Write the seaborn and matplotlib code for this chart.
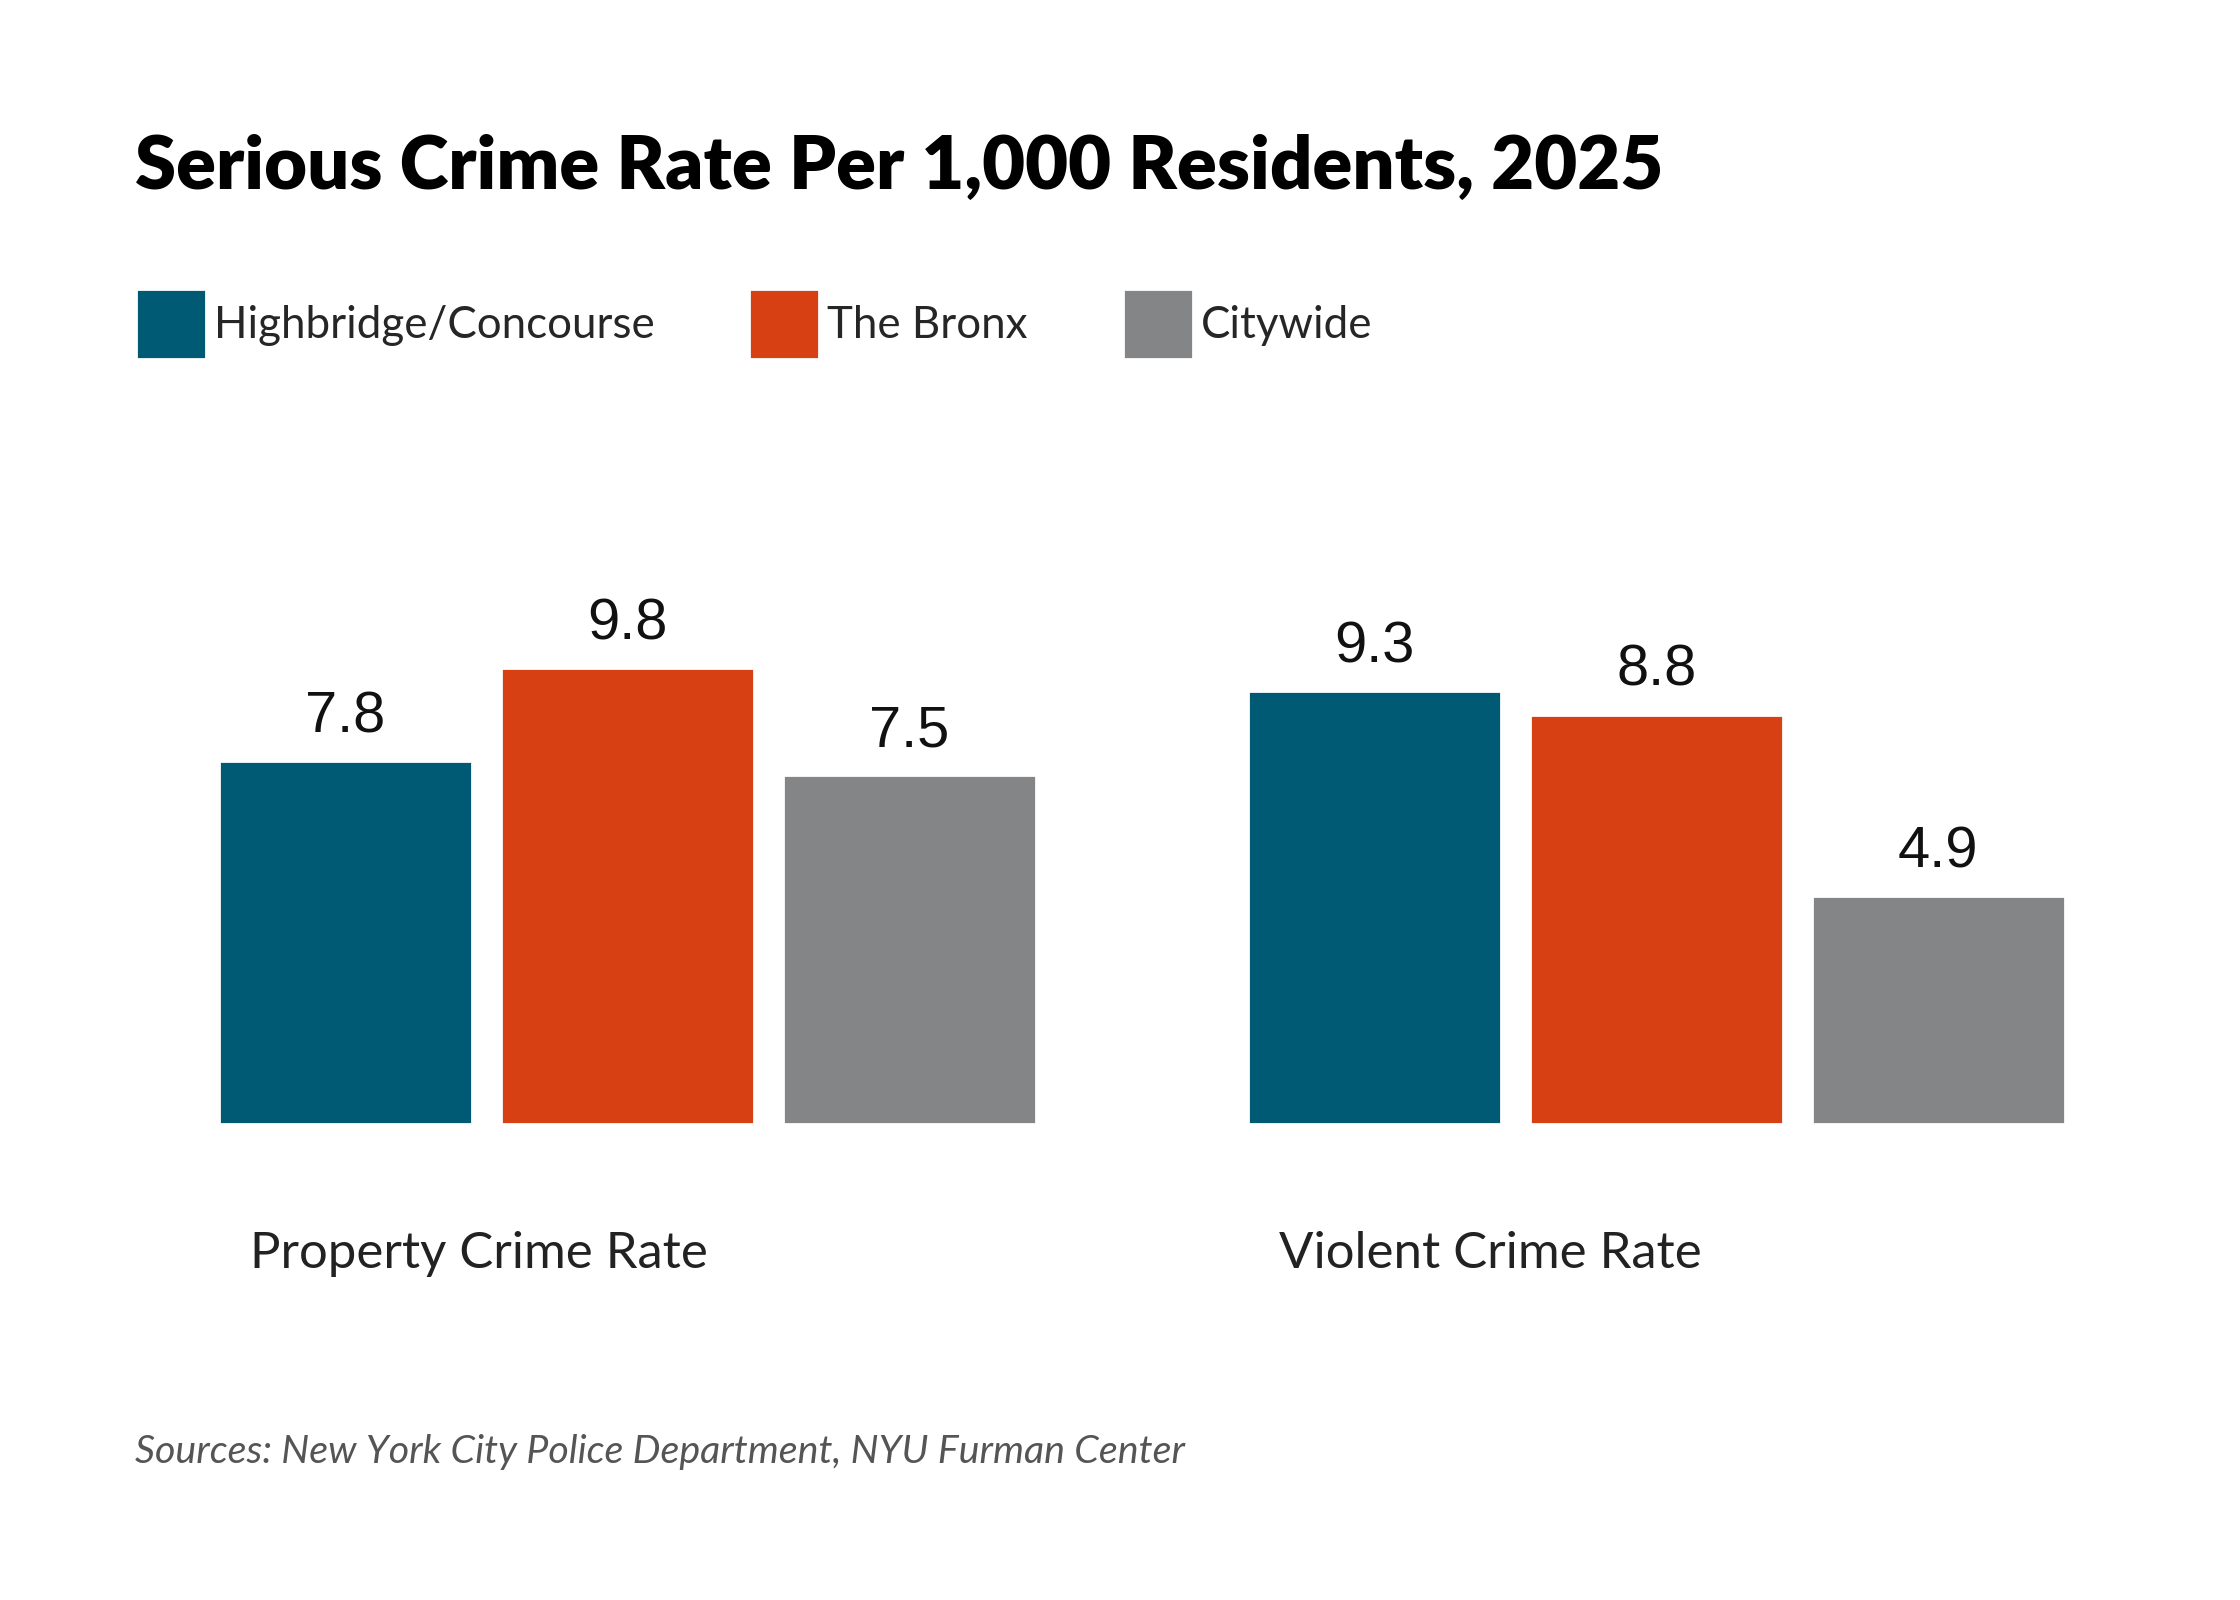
import pandas as pd
import matplotlib.pyplot as plt
import matplotlib.transforms as mtransforms
import seaborn as sns

teal = "#005A73"
orange = "#D64013"
gray = "#848587"

categories = ["Property Crime Rate", "Violent Crime Rate"]
areas = ["Highbridge/Concourse", "The Bronx", "Citywide"]
highbridge = [7.8, 9.3]
bronx = [9.8, 8.8]
citywide = [7.5, 4.9]

rows = []
for area, vals in zip(areas, [highbridge, bronx, citywide]):
    for cat, v in zip(categories, vals):
        rows.append({"category": cat, "area": area, "value": v})
df = pd.DataFrame(rows)

sns.set_style("white")
plt.rcParams["font.family"] = ["Lato", "DejaVu Sans"]

fig = plt.figure(figsize=(11.2, 8), dpi=200)
ax = fig.add_axes([0.0504, 0.2975, 0.91875, 0.349])

sns.barplot(data=df, x="category", y="value", hue="area", order=categories,
            hue_order=areas, palette=[teal, orange, gray], saturation=1,
            width=0.822, gap=0.103, ax=ax, legend=True)

ax.set_xlim(-0.5, 1.5)
ax.set_ylim(0, 12)
for side in ["top", "right", "left", "bottom"]:
    ax.spines[side].set_visible(False)
ax.set_xticks([])
ax.set_yticks([])
ax.set_xlabel("")
ax.set_ylabel("")

# value labels above bars
for cont in ax.containers:
    ax.bar_label(cont, fmt="%.1f", padding=6, fontsize=20.8,
                 family="Liberation Sans", color="#111111")

# category labels, left aligned under each group
trans = mtransforms.blended_transform_factory(ax.transData, fig.transFigure)
for i, cat in enumerate(categories):
    ax.text(i - 0.367, 0.2075, cat, transform=trans, ha="left", va="baseline",
            fontsize=18.3, color="#222222")

# legend on top
handles, labels = ax.get_legend_handles_labels()
ax.legend_.remove()
fig.legend(handles, labels, loc="center left", bbox_to_anchor=(0.0607, 0.7975),
           ncol=3, frameon=False, fontsize=15.8, handlelength=1.595, handleheight=2.077,
           handletextpad=0.18, columnspacing=2.16, borderpad=0, borderaxespad=0)

fig.text(0.0603, 0.8819, "Serious Crime Rate Per 1,000 Residents, 2025",
         ha="left", va="baseline", fontsize=26.7, fontweight="heavy", color="#000000")
fig.text(0.0603, 0.0856, "Sources: New York City Police Department, NYU Furman Center",
         ha="left", va="baseline", fontsize=14.2, fontstyle="italic", color="#555555")

fig.savefig("out.png", dpi=200, facecolor="white")
